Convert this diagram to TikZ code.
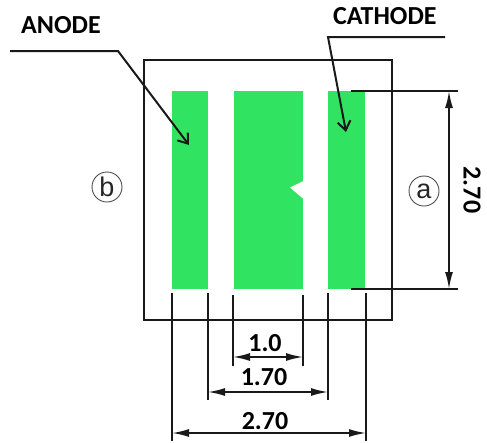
\documentclass[tikz,border=0pt]{standalone}
\usepackage{fontspec}
\setmainfont{Carlito}
\newfontfamily\circfont{Liberation Sans}
\usetikzlibrary{arrows.meta}
\definecolor{padgreen}{RGB}{48,228,98}
\tikzset{
	pad/.style = {fill = padgreen, anchor = north west, inner sep = 0pt, minimum height = 198pt},
	line/.style = {line width = 1.8pt, black!90},
	leader/.style = {line, line width = 2pt, -{Straight Barb[length = 9pt, width = 13pt, line width = 2pt]}},
	dim/.style = {line, {Latex[length = 17pt, width = 8pt]}-{Latex[length = 17pt, width = 8pt]}},
	dimtext/.style = {font = \fontsize{26}{26}\selectfont\bfseries, inner sep = 0pt},
	termtext/.style = {font = \fontsize{26}{26}\selectfont\bfseries, inner sep = 0pt, anchor = west},
	circled/.style = {draw, circle, line width = 0.9pt, black!70, text = black!85, minimum size = 30pt, inner sep = 0pt, font = \circfont\fontsize{27}{27}\selectfont},
}
\begin{document}
\begin{tikzpicture}[x = 1pt, y = -1pt]
	\useasboundingbox (0,0) rectangle (487,442);

	\node (left)[pad, minimum width = 36pt] at (172,91) {};
	\node (mid)[pad, minimum width = 69pt] at (234,91) {};
	\node (right)[pad, minimum width = 37pt] at (328,91) {};
	\fill [white] (303.5,181) -- (290,187.5) -- (303.5,199) -- cycle;

	\node (box)[draw, line, anchor = north west, inner sep = 0pt, outer sep = 0pt, minimum width = 248pt, minimum height = 260pt] at (144,60) {};

	\node (anode)[termtext] at (21,25) {ANODE};
	\node (cathode)[termtext] at (333,16) {CATHODE};
	\node (b)[circled] at (107,187) {b};
	\node (a)[circled] at (424,191) {a};

	\coordinate (as) at (10,51);
	\coordinate (ak) at (118,51);
	\coordinate (ae) at (189,145);
	\coordinate (cs) at (445,37);
	\coordinate (ck) at (328,37);
	\coordinate (ce) at (346,132);
	\draw [leader](as)--(ak)--(ae);
	\draw [leader](cs)--(ck)--(ce);

	\coordinate (t1) at (351,91);
	\coordinate (t2) at (458,91);
	\coordinate (t3) at (351,289);
	\coordinate (t4) at (458,289);
	\coordinate (v1) at (449,91);
	\coordinate (v2) at (449,289);
	\draw [line](t1)--(t2);
	\draw [line](t3)--(t4);
	\draw [dim](v1)--(v2);
	\node (h)[dimtext, rotate = -90] at (472,190) {2.70};

	\coordinate (p1) at (172,293);
	\coordinate (q1) at (172,441);
	\coordinate (p2) at (366,293);
	\coordinate (q2) at (366,441);
	\coordinate (p3) at (208,293);
	\coordinate (q3) at (208,400);
	\coordinate (p4) at (328,293);
	\coordinate (q4) at (328,400);
	\coordinate (p5) at (233,295);
	\coordinate (q5) at (233,366);
	\coordinate (p6) at (303,295);
	\coordinate (q6) at (303,366);
	\draw [line](p1)--(q1);
	\draw [line](p2)--(q2);
	\draw [line](p3)--(q3);
	\draw [line](p4)--(q4);
	\draw [line](p5)--(q5);
	\draw [line](p6)--(q6);

	\coordinate (d1) at (172,433);
	\coordinate (d2) at (366,433);
	\coordinate (d3) at (208,392);
	\coordinate (d4) at (328,392);
	\coordinate (d5) at (233,357);
	\coordinate (d6) at (303,357);
	\draw [dim](d1)--(d2);
	\draw [dim](d3)--(d4);
	\draw [dim](d5)--(d6);
	\node (w1)[dimtext] at (265,343) {1.0};
	\node (w2)[dimtext] at (264,377) {1.70};
	\node (w3)[dimtext] at (265,421) {2.70};
\end{tikzpicture}
\end{document}
